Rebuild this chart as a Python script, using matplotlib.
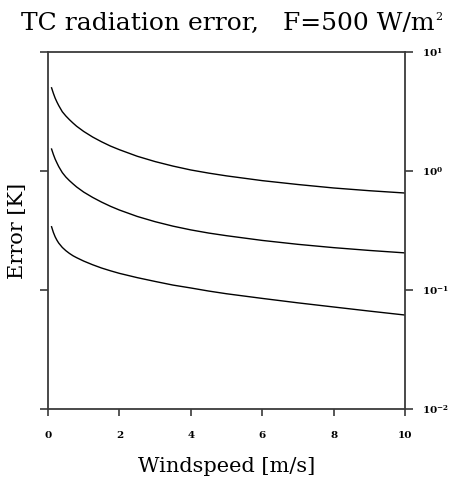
import matplotlib
matplotlib.use("Agg")
import matplotlib.pyplot as plt

# windspeed [m/s] and radiation error [K] for three thermocouple sizes
windspeed = [0.1, 0.15, 0.2, 0.25, 0.3, 0.4, 0.5, 0.6, 0.7, 0.8, 1.0, 1.25, 1.5, 1.75,
             2.0, 2.5, 3.0, 3.5, 4.0, 4.5, 5.0, 6.0, 7.0, 8.0, 9.0, 10.0]
err_large = [5.0, 4.5, 4.1, 3.8, 3.55, 3.15, 2.9, 2.7, 2.53, 2.38, 2.15, 1.93, 1.76, 1.62,
             1.51, 1.33, 1.2, 1.1, 1.02, 0.96, 0.91, 0.83, 0.77, 0.72, 0.683, 0.653]
err_medium = [1.53, 1.38, 1.26, 1.17, 1.09, 0.97, 0.89, 0.83, 0.78, 0.735, 0.665, 0.6, 0.548, 0.505,
              0.47, 0.415, 0.375, 0.344, 0.32, 0.301, 0.286, 0.261, 0.242, 0.227, 0.215, 0.205]
err_small = [0.34, 0.305, 0.28, 0.262, 0.248, 0.228, 0.214, 0.203, 0.194, 0.187, 0.175, 0.163, 0.153, 0.145,
             0.138, 0.127, 0.118, 0.11, 0.104, 0.098, 0.093, 0.085, 0.078, 0.072, 0.0665, 0.0616]

xticks = [0, 2, 4, 6, 8, 10]
yticks = [1e-2, 1e-1, 1e0, 1e1]
ylabels = ["$\\mathbf{10^{-2}}$", "$\\mathbf{10^{-1}}$", "$\\mathbf{10^{0}}$", "$\\mathbf{10^{1}}$"]

plt.rcParams['font.family'] = ['DejaVu Serif']
plt.rcParams['mathtext.fontset'] = 'custom'
plt.rcParams['mathtext.rm'] = 'DejaVu Serif'
plt.rcParams['mathtext.bf'] = 'DejaVu Serif:bold'

fig = plt.figure(figsize=(4.51, 4.79), dpi=100)
ax = fig.add_axes([48 / 451, 70 / 479, 357 / 451, 357 / 479])

for err in (err_large, err_medium, err_small):
    ax.plot(windspeed, err, color='black', linewidth=1.0)

ax.set_yscale('log')
ax.set_xlim(0, 10)
ax.set_ylim(1e-2, 1e1)
ax.minorticks_off()

ax.set_xticks(xticks)
ax.set_xticklabels([str(t) for t in xticks], fontsize=7.5, fontweight='bold')
ax.set_yticks(yticks)
ax.set_yticklabels(ylabels, fontsize=7.5)

ax.tick_params(axis='x', direction='out', length=5, width=1.2, color='#3a3a3a',
               bottom=True, top=False, pad=11)
ax.tick_params(axis='y', direction='out', length=6, width=1.2, color='#3a3a3a',
               left=True, right=True, labelleft=False, labelright=True, pad=6)

for sp in ax.spines.values():
    sp.set_linewidth(1.3)
    sp.set_color('#3a3a3a')

ax.set_xlabel("Windspeed [m/s]", fontsize=15, va='center')
ax.xaxis.set_label_coords(0.5, (409 - 467) / 357)
ax.set_ylabel("Error [K]", fontsize=15, va='center')
ax.yaxis.set_label_coords((18 - 48) / 357, 0.5)

# title with a small raised "2"
title = fig.text(228 / 451, 1 - 23 / 479, "TC radiation error,   F=500 W/m",
                 ha='center', va='center', fontsize=18)
fig.canvas.draw()
bb = title.get_window_extent()
fig.text((bb.x1 + 1) / 451, (bb.y1 - 6) / 479, "2", ha='left', va='center', fontsize=8)

fig.savefig("out.png", dpi=100)
plt.close("all")
